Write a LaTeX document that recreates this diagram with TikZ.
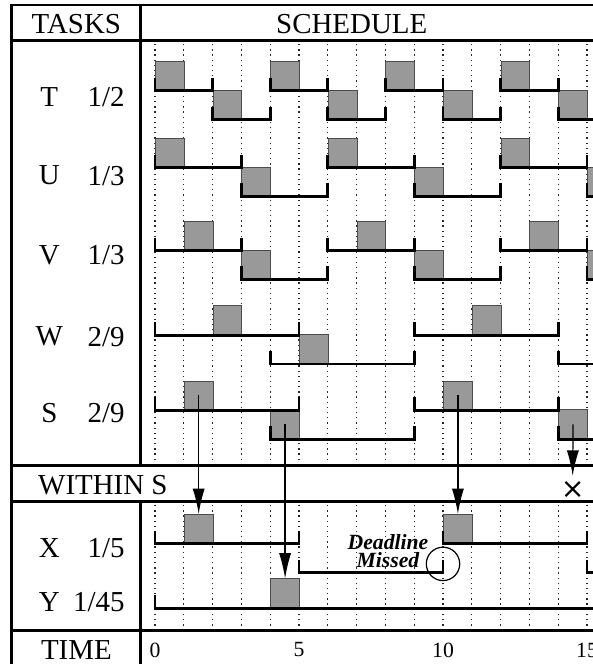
\documentclass[tikz,border=0pt]{standalone}
\usepackage{fontspec}
\setmainfont{Liberation Serif}
\usetikzlibrary{arrows.meta, shapes.misc}

\tikzset{
    frame/.style={line width=1.2pt},
    slotline/.style={line width=0.55pt, black!85, dash pattern=on 0.55pt off 1.6pt},
    winline/.style={line width=1.2pt},
    job/.style={draw=black!70, fill=black!40, line width=0.4pt, minimum size=4.2mm, inner sep=0pt, anchor=south west},
    lbl/.style={font=\fontsize{12}{14}\selectfont, inner sep=0pt},
    timelbl/.style={font=\fontsize{9}{10}\selectfont, inner sep=0pt},
    link/.style={line width=0.5pt, -{Latex[length=10.5pt,width=5pt]}}
}

% window from #1 to #2 with its base at height #3
\newcommand{\jobwin}[3]{\draw[winline] (#1, #3+0.45) -- (#1, #3) -- (#2, #3) -- (#2, #3+0.45);}

\begin{document}
\begin{tikzpicture}[x=4.2mm, y=4.2mm]
                    \useasboundingbox (-5.382, -1.156) rectangle (15.208, 21.899);
                    \clip (-5.382, -1.156) rectangle (15.208, 21.899);

                    % time slots
                    \foreach \t in {0,...,15} {
                        \draw[slotline] (\t, 5.75) -- (\t, 20.48);
                        \draw[slotline] (\t, 0) -- (\t, 4.5);
                    }

                    % T 1/2
                    \foreach \k in {0,...,3} {
                        \node[job] (T-\k-a) at (4*\k, 18.75) {};
                        \node[job] (T-\k-b) at (4*\k+2, 17.75) {};
                        \jobwin{4*\k}{4*\k+2}{18.75}
                        \jobwin{4*\k+2}{4*\k+4}{17.75}
                    }

                    % U 1/3 and V 1/3
                    \foreach \k in {0,1,2} {
                        \node[job] (U-\k-a) at (6*\k, 16.08) {};
                        \node[job] (U-\k-b) at (6*\k+3, 15.08) {};
                        \jobwin{6*\k}{6*\k+3}{16.08}
                        \jobwin{6*\k+3}{6*\k+6}{15.08}

                        \node[job] (V-\k-a) at (6*\k+1, 13.2) {};
                        \node[job] (V-\k-b) at (6*\k+3, 12.2) {};
                        \jobwin{6*\k}{6*\k+3}{13.2}
                        \jobwin{6*\k+3}{6*\k+6}{12.2}
                    }

                    % W 2/9
                    \node[job] (W1) at (2, 10.26) {};
                    \node[job] (W2) at (5, 9.26) {};
                    \node[job] (W3) at (11, 10.26) {};
                    \jobwin{0}{5}{10.26}
                    \jobwin{4}{9}{9.26}
                    \jobwin{9}{14}{10.26}
                    \jobwin{14}{19}{9.26}

                    % S 2/9
                    \node[job] (S1) at (1, 7.65) {};
                    \node[job] (S2) at (4, 6.65) {};
                    \node[job] (S3) at (10, 7.65) {};
                    \node[job] (S4) at (14, 6.65) {};
                    \jobwin{0}{5}{7.65}
                    \jobwin{4}{9}{6.65}
                    \jobwin{9}{14}{7.65}
                    \jobwin{14}{19}{6.65}

                    % X 1/5 and Y 1/45
                    \node[job] (X1) at (1, 3.02) {};
                    \node[job] (X2) at (10, 3.02) {};
                    \node[job] (Y1) at (4, 0.78) {};
                    \jobwin{0}{5}{3.02}
                    \jobwin{5}{10}{2.02}
                    \jobwin{10}{15}{3.02}
                    \jobwin{15}{20}{2.02}
                    \jobwin{0}{45}{0.78}

                    % table
                    \draw[frame]
                    (-4.97, -1.5) -- (-4.97, 21.726) -- (16, 21.726)
                    (-4.97, 20.48) -- (16, 20.48)
                    (-4.97, 5.75) -- (16, 5.75)
                    (-4.97, 4.5) -- (16, 4.5)
                    (-4.97, 0) -- (16, 0)
                    (-0.5, 21.726) -- (-0.5, 5.75)
                    (-0.5, 4.5) -- (-0.5, -1.5);

                    \node[lbl] (tasks) at (-2.73, 21.07) {TASKS};
                    \node[lbl] (sched) at (6.83, 21.07) {SCHEDULE};
                    \node[lbl] (within) at (-1.81, 5.06) {WITHIN S};
                    \node[lbl] (time) at (-2.73, -0.67) {TIME};

                    \node[lbl] (nT) at (-3.67, 18.54) {T};
                    \node[lbl, anchor=east] (rT) at (-1.04, 18.54) {1/2};
                    \node[lbl] (nU) at (-3.67, 15.8) {U};
                    \node[lbl, anchor=east] (rU) at (-1.04, 15.8) {1/3};
                    \node[lbl] (nV) at (-3.67, 13.05) {V};
                    \node[lbl, anchor=east] (rV) at (-1.04, 13.05) {1/3};
                    \node[lbl] (nW) at (-3.67, 10.21) {W};
                    \node[lbl, anchor=east] (rW) at (-1.04, 10.21) {2/9};
                    \node[lbl] (nS) at (-3.67, 7.56) {S};
                    \node[lbl, anchor=east] (rS) at (-1.04, 7.56) {2/9};
                    \node[lbl] (nX) at (-3.67, 2.87) {X};
                    \node[lbl, anchor=east] (rX) at (-1.04, 2.87) {1/5};
                    \node[lbl] (nY) at (-3.67, 1.0) {Y};
                    \node[lbl, anchor=east] (rY) at (-1.04, 1.0) {1/45};

                    \foreach \t in {0,5,10,15} {
                        \node[timelbl] (t\t) at (\t, -0.67) {\t};
                    }

                    % jobs of S handed down to X and Y
                    \node[draw, cross out, line width=0.9pt, minimum size=1.75mm, inner sep=0pt] (fail) at (14.5, 4.92) {};
                    \draw[link] (S1.center) -- (X1.north);
                    \draw[link] (S2.center) -- (Y1.north);
                    \draw[link] (S3.center) -- (X2.north);
                    \draw[link, shorten >=0.9mm] (S4.center) -- (fail.north);

                    \node[draw, circle, line width=0.5pt, minimum size=4.87mm, inner sep=0pt] (late) at (10, 2.32) {};
                    \node[font=\fontsize{9}{7.6}\selectfont\bfseries\itshape, align=center, inner sep=0pt] (missed) at (8.09, 2.77) {Deadline\\Missed};
                \end{tikzpicture}
\end{document}
